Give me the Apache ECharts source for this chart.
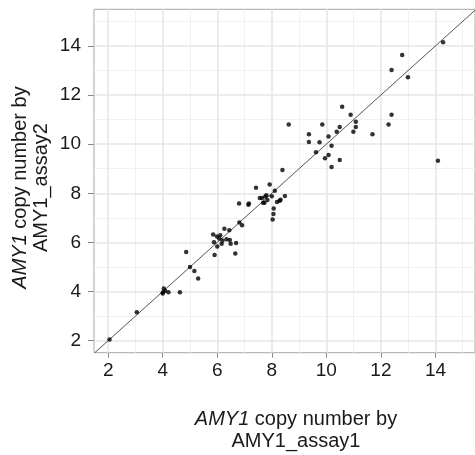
<!DOCTYPE html>
<html>
<head>
<meta charset="utf-8">
<script src="https://cdn.jsdelivr.net/npm/echarts@6/dist/echarts.min.js"></script>
<style>html,body{margin:0;padding:0;background:#fff}#c{width:475px;height:455px}</style>
</head>
<body>
<div id="c"></div>
<script>
var assay1 = [2.05,3.05,4.04,4.01,4.09,4.21,4.0,4.63,4.86,5.0,5.16,5.30,5.90,5.85,5.88,6.0,5.99,6.07,6.11,6.16,6.19,6.26,6.34,6.44,6.46,6.49,6.69,6.66,6.81,6.91,6.80,7.14,7.16,7.42,7.56,7.64,7.68,7.73,7.76,7.80,7.84,7.92,8.0,8.11,8.07,8.06,8.03,8.19,8.29,8.32,8.48,8.39,8.62,9.36,9.36,9.62,9.75,9.85,9.95,10.08,10.08,10.19,10.19,10.38,10.49,10.58,10.49,10.89,10.99,11.08,11.08,11.69,12.28,12.39,12.39,12.78,12.99,14.09,14.28];
var assay2 = [2.05,3.16,4.12,3.97,4.03,3.97,3.92,3.97,5.61,5.0,4.84,4.53,5.49,6.32,6.01,5.83,6.24,6.16,6.29,5.95,6.08,6.56,6.13,6.50,6.10,5.95,5.98,5.55,6.81,6.70,7.58,7.53,7.58,8.23,7.81,7.81,7.61,7.61,7.87,7.92,7.73,8.36,7.88,8.10,7.38,7.16,6.93,7.65,7.70,7.74,7.89,8.95,10.80,10.40,10.09,9.67,10.08,10.80,9.43,10.31,9.56,9.94,9.07,10.50,10.70,11.52,9.36,11.20,10.50,10.70,10.91,10.40,10.80,11.20,13.02,13.63,12.72,9.32,14.15];
var tickValues = [2,4,6,8,10,12,14];
var majorGrid = [2,4,6,8,10,12,14];
var minorGrid = [3,5,7,9,11,13,15];
var identityLine = [[1.5,1.5],[15.5,15.5]];

var points = assay1.map(function(v,i){return [v, assay2[i]];});
var FONT = '"Liberation Sans", Arial, Helvetica, sans-serif';

function gridLines(vals, axisKey, style){
  return vals.map(function(v){var o={}; o[axisKey]=v; o.lineStyle=style; return o;});
}
var majorStyle = {color:'#e6e6e6', width:1.6, type:'solid'};
var minorStyle = {color:'#efefef', width:0.9, type:'solid'};
var markData = [].concat(
  gridLines(minorGrid,'xAxis',minorStyle), gridLines(minorGrid,'yAxis',minorStyle),
  gridLines(majorGrid,'xAxis',majorStyle), gridLines(majorGrid,'yAxis',majorStyle)
);

var chart = echarts.init(document.getElementById('c'), null, {renderer:'canvas'});
chart.setOption({
  animation:false,
  backgroundColor:'#fff',
  grid:{left:94, top:9.3, right:0, bottom:102.3, show:true, borderColor:'#a8a8a8', borderWidth:1, backgroundColor:'transparent'},
  xAxis:{type:'value', min:1.48, max:15.45,
    axisLine:{show:false},
    axisTick:{show:true, customValues:tickValues, length:5, lineStyle:{color:'#888'}},
    axisLabel:{customValues:tickValues, color:'#1a1a1a', fontSize:19, fontFamily:FONT, margin:9},
    splitLine:{show:false}},
  yAxis:{type:'value', min:1.51, max:15.49,
    axisLine:{show:false},
    axisTick:{show:true, customValues:tickValues, length:6, lineStyle:{color:'#888'}},
    axisLabel:{customValues:tickValues, color:'#1a1a1a', fontSize:19, fontFamily:FONT, margin:13},
    splitLine:{show:false}},
  series:[
    {type:'line', data:identityLine, symbol:'none', silent:true, z:3,
     lineStyle:{color:'#555', width:1},
     markLine:{silent:true, symbol:['none','none'], label:{show:false}, z:1, data:markData, animation:false}},
    {type:'scatter', data:points, symbol:'circle', symbolSize:4.5, z:4,
     itemStyle:{color:'#000'}}
  ],
  graphic:[
    {type:'text', left:null, x:296, y:430.5, z:10,
     style:{text:'{i|AMY1} copy number by\nAMY1_assay1', fill:'#1a1a1a', font:'20px '+FONT, fontSize:20, fontFamily:FONT,
       align:'center', verticalAlign:'middle', lineHeight:21.5,
       rich:{i:{fontStyle:'italic', fontSize:20, fontFamily:FONT, lineHeight:21.5}}}},
    {type:'text', x:31, y:187.5, rotation:Math.PI/2, z:10,
     style:{text:'{i|AMY1} copy number by\nAMY1_assay2', fill:'#1a1a1a', fontSize:20, fontFamily:FONT,
       align:'center', verticalAlign:'middle', lineHeight:21.5,
       rich:{i:{fontStyle:'italic', fontSize:20, fontFamily:FONT, lineHeight:21.5}}}}
  ]
});
</script>
</body>
</html>
